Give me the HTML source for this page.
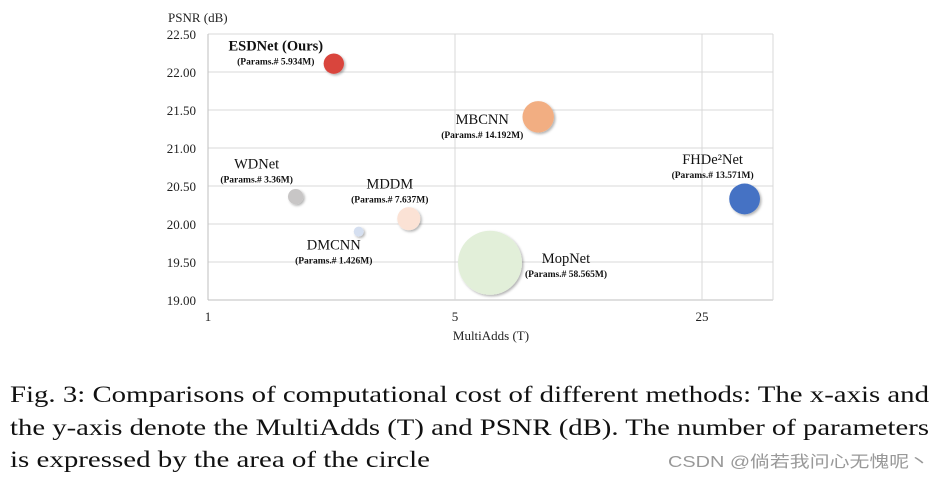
<!DOCTYPE html>
<html><head><meta charset="utf-8"><style>
html,body{margin:0;padding:0;background:#fff;width:944px;height:480px;overflow:hidden}
svg{display:block}
</style></head><body>
<svg id="chart" width="944" height="480" xmlns="http://www.w3.org/2000/svg" font-family="'Liberation Serif', serif">
<defs><filter id="sh" x="-30%" y="-30%" width="160%" height="160%"><feDropShadow dx="1.5" dy="1.5" stdDeviation="1.2" flood-color="#000" flood-opacity="0.3"/></filter></defs>
<g id="grid"></g>
<g id="bubbles"></g>
<g id="labels"></g>
<text x="168" y="22" font-size="13" fill="#222">PSNR (dB)</text>
<text x="491" y="340" font-size="13" fill="#222" text-anchor="middle">MultiAdds (T)</text>
<g font-size="23" fill="#111">
<text x="10" y="402" textLength="919" lengthAdjust="spacingAndGlyphs">Fig. 3: Comparisons of computational cost of different methods: The x-axis and</text>
<text x="10" y="435" textLength="919" lengthAdjust="spacingAndGlyphs">the y-axis denote the MultiAdds (T) and PSNR (dB). The number of parameters</text>
<text x="10" y="467" textLength="420" lengthAdjust="spacingAndGlyphs">is expressed by the area of the circle</text>
</g>
<text x="668" y="467" font-size="16" fill="#999" textLength="261" lengthAdjust="spacingAndGlyphs" font-family="'Liberation Sans','Noto Sans CJK SC',sans-serif">CSDN @倘若我问心无愧呢丶</text>
</svg>
<script>
const names=["ESDNet (Ours)","MBCNN","FHDe²Net","WDNet","MDDM","DMCNN","MopNet"];
const multiAdds=[2.27,8.6,33,1.77,3.7,2.67,6.28];
const psnr=[22.11,21.41,20.33,20.36,20.07,19.9,19.49];
const params=[5.934,14.192,13.571,3.36,7.637,1.426,58.565];
const paramLabels=["5.934M","14.192M","13.571M","3.36M","7.637M","1.426M","58.565M"];
const colors=["#d9443e","#f2ae82","#4472c4","#c8c6c6","#fbe2d5","#d5dff0","#e2efd9"];
const yTicks=[19.0,19.5,20.0,20.5,21.0,21.5,22.0,22.5];
const xTicks=[1,5,25];
// label offsets (style)
const lblDX=[-58,-56,-32,-39,-19,-25,76];
const lblDY=[-13,7,-35,-28,-30,18,0];
const bold=[true,false,false,false,false,false,false];
const NS="http://www.w3.org/2000/svg";
const L=208,R=773,T=34,B=300;
const x=v=>L+Math.log(v)/Math.log(5)*247;
const y=v=>B-(v-19)/3.5*(B-T);
const rad=p=>4.18*Math.sqrt(p);
function mk(tag,attrs,parent){const e=document.createElementNS(NS,tag);for(const k in attrs)e.setAttribute(k,attrs[k]);parent.appendChild(e);return e;}
const grid=document.getElementById('grid'),bub=document.getElementById('bubbles'),lab=document.getElementById('labels');
yTicks.forEach(t=>{
  const ln=mk('line',{x1:L,x2:R,y1:y(t),y2:y(t),stroke:t===19?'#bfbfbf':'#d9d9d9','stroke-width':1},grid);
  
  
  const tx=mk('text',{x:L-12,y:y(t)+5,'text-anchor':'end','font-size':13,fill:'#222'},grid);
  tx.textContent=t.toFixed(2);
  
  
});
xTicks.forEach(t=>{
  const ln=mk('line',{x1:x(t),x2:x(t),y1:T,y2:B,stroke:t===1?'#bfbfbf':'#d9d9d9','stroke-width':1},grid);
  
  
  const tx=mk('text',{x:x(t),y:B+21,'text-anchor':'middle','font-size':13,fill:'#222'},grid);
  tx.textContent=t;
  
  
});
const rl=mk('line',{x1:R,x2:R,y1:T,y2:B,stroke:'#d9d9d9'},grid);


names.forEach((n,i)=>{
  const cx=x(multiAdds[i]),cy=y(psnr[i]);
  const c=mk('circle',{cx:cx,cy:cy,r:rad(params[i]),fill:colors[i],filter:'url(#sh)'},bub);
  
  
  const lx=cx+lblDX[i],ly=cy+lblDY[i];
  const t1=mk('text',{x:lx,y:ly,'text-anchor':'middle','font-size':14.5,fill:'#111','font-weight':bold[i]?'bold':'normal'},lab);
  t1.textContent=n;
  
  
  const t2=mk('text',{x:lx,y:ly+14,'text-anchor':'middle','font-size':9.5,fill:'#111','font-weight':'bold'},lab);
  t2.textContent='(Params.# '+paramLabels[i]+')';
  
  
});
</script>
</body></html>
